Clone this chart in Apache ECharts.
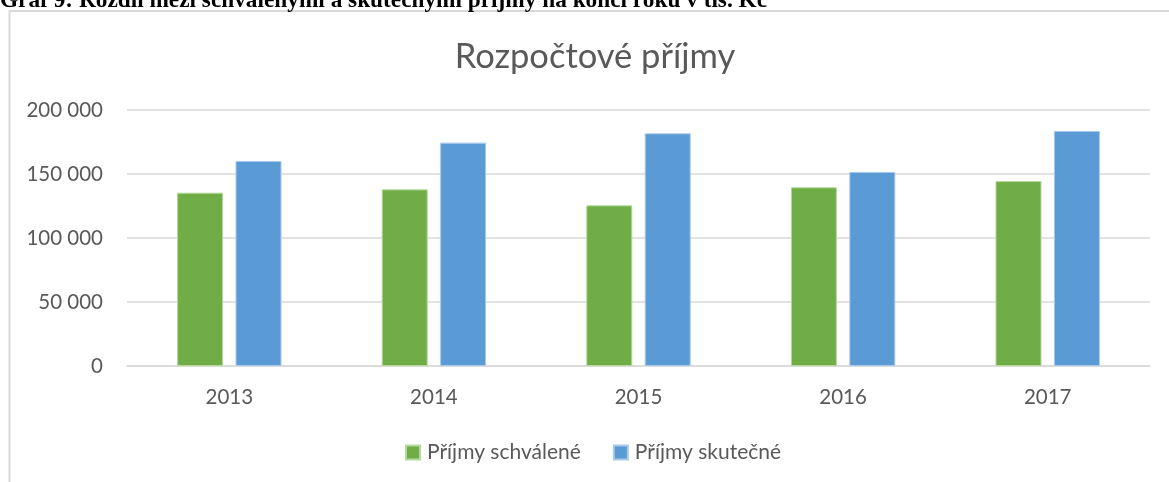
<!DOCTYPE html>
<html>
<head>
<meta charset="utf-8">
<script src="https://cdn.jsdelivr.net/npm/echarts@6/dist/echarts.min.js"></script>
<style>
    html, body { margin: 0; padding: 0; background: #fff; }
    #chart { width: 1169px; height: 482px; }
</style>
</head>
<body>
<div id="chart"></div>
<script>
// roky
var years = ["2013", "2014", "2015", "2016", "2017"];
// tis. Kč
var prijmySchvalene = [135400, 138000, 125500, 139600, 144500];
var prijmySkutecne = [160200, 174500, 181800, 151600, 183600];
var yTicks = [0, 50000, 100000, 150000, 200000];

var caption = "Graf 9: Rozdíl mezi schválenými a skutečnými příjmy na konci roku v tis. Kč";
var textColor = "#595959";
var font = "Lato";

function spaced(v) {
    return String(v).replace(/\B(?=(\d{3})+(?!\d))/g, " ");
}

var chart = echarts.init(document.getElementById("chart"));

var option = {
    animation: false,
    title: {
        text: "Rozpočtové příjmy",
        left: 590,
        textAlign: "center",
        top: 34,
        textStyle: {
            fontFamily: font,
            fontSize: 34.5,
            fontWeight: "normal",
            color: textColor
        }
    },
    graphic: [
        {
            type: "rect",
            shape: { x: 9.5, y: 11, width: 2000, height: 2000 },
            style: { fill: "none", stroke: "#d9d9d9", lineWidth: 2 },
            silent: true
        },
        {
            type: "text",
            x: 0,
            y: -11,
            style: {
                text: caption,
                fontFamily: "Liberation Serif",
                fontWeight: "bold",
                fontSize: 23.3,
                fill: "#000"
            },
            silent: true
        }
    ],
    legend: {
        left: 400,
        top: 437,
        itemWidth: 14,
        itemHeight: 14,
        itemGap: 32,
        icon: "rect",
        textStyle: {
            fontFamily: font,
            fontSize: 21,
            color: textColor,
            padding: [0, 0, 0, 2]
        },
        data: ["Příjmy schválené", "Příjmy skutečné"]
    },
    grid: {
        left: 127,
        right: 19,
        top: 110,
        bottom: 116,
        containLabel: false
    },
    xAxis: {
        type: "category",
        data: years,
        axisLine: { lineStyle: { color: "#d9d9d9", width: 1.5 } },
        axisTick: { show: false },
        axisLabel: {
            margin: 21,
            fontFamily: font,
            fontSize: 20.5,
            color: textColor
        }
    },
    yAxis: {
        type: "value",
        min: yTicks[0],
        max: yTicks[yTicks.length - 1],
        interval: yTicks[1] - yTicks[0],
        axisLine: { show: false },
        axisTick: { show: false },
        splitLine: { lineStyle: { color: "#d9d9d9", width: 1.5 } },
        axisLabel: {
            margin: 24,
            fontFamily: font,
            fontSize: 20.5,
            color: textColor,
            formatter: spaced
        }
    },
    series: [
        {
            name: "Příjmy schválené",
            type: "bar",
            data: prijmySchvalene,
            barWidth: 46,
            barGap: "27%",
            itemStyle: {
                color: "#70ad47",
                borderColor: "#b4d99c",
                borderWidth: 1
            }
        },
        {
            name: "Příjmy skutečné",
            type: "bar",
            data: prijmySkutecne,
            barWidth: 46,
            itemStyle: {
                color: "#5b9bd5",
                borderColor: "#a9caea",
                borderWidth: 1
            }
        }
    ]
};

chart.setOption(option);
</script>
</body>
</html>
